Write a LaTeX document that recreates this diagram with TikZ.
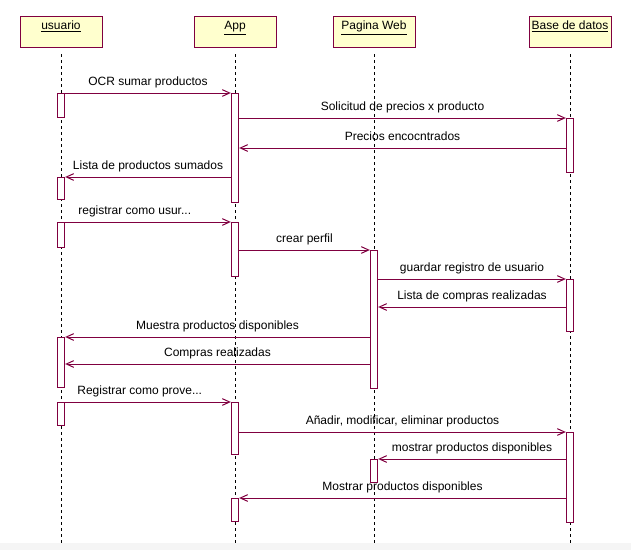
\documentclass[tikz,border=0pt]{standalone}
\usepackage{fontspec}
\setmainfont{Liberation Sans}
\usepackage{tikz}
\usetikzlibrary{arrows.meta}
\definecolor{rosered}{RGB}{128,0,64}
\definecolor{roseyellow}{RGB}{255,255,206}

\begin{document}
\begin{tikzpicture}[x=0.75pt, y=-0.75pt, every node/.style={font=\fontsize{9}{11}\selectfont},
	>={Straight Barb[length=5.5pt, width=5pt]},
	actor/.style={draw=rosered, fill=roseyellow, line width=0.75pt, anchor=north, minimum width=61.5pt, inner xsep=0pt, inner ysep=0pt, text height=9.75pt, text depth=13.5pt},
	act/.style={draw=rosered, fill=white, line width=0.75pt, anchor=north, minimum width=5.5pt, inner sep=0pt},
	life/.style={dash pattern=on 2.25pt off 2.25pt, line width=0.75pt},
	msg/.style={->, rosered, line width=0.75pt},
	lbl/.style={anchor=base, yshift=6pt, text=black}]
	\useasboundingbox (0,0) rectangle (631,550);
	\fill[gray!8] (0,543) rectangle (631,550);
	\node[actor] (usuario) at (61,16) {\underline{usuario}};
	\node[actor] (app) at (235,16) {\underline{App}};
	\node[actor] (web) at (374,16) {\underline{Pagina Web}};
	\node[actor] (bd) at (570,16) {\underline{Base de datos}};
	\coordinate (bottom) at (0,543);
	\foreach \n in {usuario,app,web,bd}
		\draw[life] ([yshift=-4.5pt]\n.south) -- (\n.south |- bottom);
	\node[act, minimum height=18pt] (u1) at (61,93) {};
	\node[act, minimum height=16.5pt] (u2) at (61,177) {};
	\node[act, minimum height=18.75pt] (u3) at (61,222) {};
	\node[act, minimum height=37.5pt] (u4) at (61,337) {};
	\node[act, minimum height=17.25pt] (u5) at (61,402) {};
	\node[act, minimum height=81.75pt] (a1) at (235,93) {};
	\node[act, minimum height=40.5pt] (a2) at (235,222) {};
	\node[act, minimum height=39pt] (a3) at (235,402) {};
	\node[act, minimum height=17.25pt] (a4) at (235,498) {};
	\node[act, minimum height=103.5pt] (p1) at (374,250) {};
	\node[act, minimum height=17.25pt] (p2) at (374,459) {};
	\node[act, minimum height=40.5pt] (b1) at (570,118) {};
	\node[act, minimum height=39pt] (b2) at (570,279) {};
	\node[act, minimum height=67.5pt] (b3) at (570,432) {};
	\coordinate (y3) at (0,148);
	\coordinate (y8) at (0,307);
	\coordinate (y10) at (0,364);
	\draw[msg] (u1.north east) -- node[lbl] {OCR sumar productos} (a1.north west);
	\draw[msg] (a1.east |- b1.north) -- node[lbl] {Solicitud de precios x producto} (b1.north west);
	\draw[msg] (b1.west |- y3) -- node[lbl] {Precios encocntrados} (a1.east |- y3);
	\draw[msg] (a1.west |- u2.north) -- node[lbl] {Lista de productos sumados} (u2.north east);
	\draw[msg] (u3.north east) -- node[lbl, pos=0.42] {registrar como usur...} (a2.north west);
	\draw[msg] (a2.east |- p1.north) -- node[lbl] {crear perfil} (p1.north west);
	\draw[msg] (p1.east |- b2.north) -- node[lbl] {guardar registro de usuario} (b2.north west);
	\draw[msg] (b2.west |- y8) -- node[lbl] {Lista de compras realizadas} (p1.east |- y8);
	\draw[msg] (p1.west |- u4.north) -- node[lbl] {Muestra productos disponibles} (u4.north east);
	\draw[msg] (p1.west |- y10) -- node[lbl] {Compras realizadas} (u4.east |- y10);
	\draw[msg] (u5.north east) -- node[lbl, pos=0.45] {Registrar como prove...} (a3.north west);
	\draw[msg] (a3.east |- b3.north) -- node[lbl] {Añadir, modificar, eliminar productos} (b3.north west);
	\draw[msg] (b3.west |- p2.north) -- node[lbl] {mostrar productos disponibles} (p2.north east);
	\draw[msg] (b3.west |- a4.north) -- node[lbl] {Mostrar productos disponibles} (a4.north east);
\end{tikzpicture}
\end{document}
